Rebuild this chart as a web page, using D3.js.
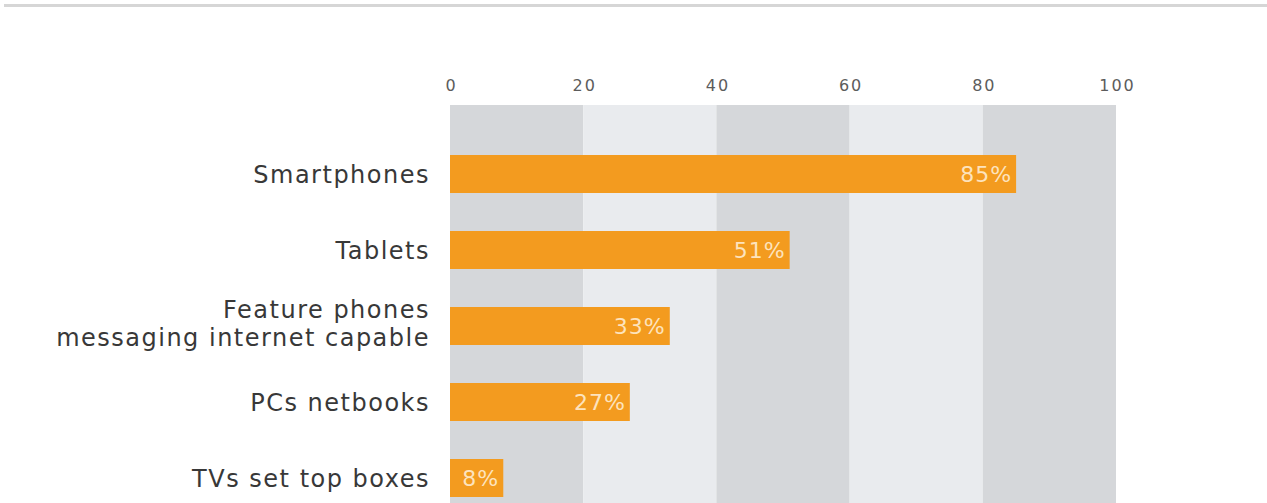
<!DOCTYPE html>
<html>
<head>
<meta charset="utf-8">
<script src="https://cdn.jsdelivr.net/npm/d3@7"></script>
<style>
  body { margin: 0; background: #fff; }
  svg { display: block; font-family: "DejaVu Sans", sans-serif; }
</style>
</head>
<body>
<div id="chart_div"></div>
<script>
const categories = [
    ["Smartphones"],
    ["Tablets"],
    ["Feature phones", "messaging internet capable"],
    ["PCs netbooks"],
    ["TVs set top boxes"]
];
const values = [85, 51, 33, 27, 8];
const tickValues = [0, 20, 40, 60, 80, 100];
const bandStarts = [0, 20, 40, 60, 80];

const width = 1267;
const height = 503;

const svg = d3.select("#chart_div")
    .append("svg")
    .attr("width", width)
    .attr("height", height);

// thin rule at the very top
svg.append("rect")
    .attr("x", 4)
    .attr("y", 4)
    .attr("width", width - 4)
    .attr("height", 3)
    .attr("fill", "#d6d6d6");

const x = d3.scaleLinear()
    .domain([0, 100])
    .range([450, 1116]);

const y = d3.scaleBand()
    .domain(categories.map((d, i) => i))
    .range([136, 516])
    .paddingInner(0.5)
    .paddingOuter(0.25);

// alternating background columns
svg.append("g")
    .selectAll("rect")
    .data(bandStarts)
    .enter()
    .append("rect")
    .attr("x", d => x(d))
    .attr("y", 105)
    .attr("width", d => x(d + 20) - x(d))
    .attr("height", height - 105)
    .attr("fill", (d, i) => i % 2 === 0 ? "#d5d7da" : "#e9ebee");

const xAxis = (g) => g.append("g")
    .attr("transform", "translate(1, 91)")
    .call(d3.axisTop(x).tickValues(tickValues).tickSize(0).tickPadding(0))
    .call(g => g.select(".domain").remove())
    .call(g => g.selectAll("text")
        .attr("fill", "#5c5c5c")
        .attr("font-size", 16)
        .attr("letter-spacing", 2)
        .attr("font-family", "DejaVu Sans, sans-serif"));

svg.call(xAxis);

const bars = svg.append("g")
    .selectAll("rect")
    .data(values)
    .enter()
    .append("rect")
    .attr("x", x(0))
    .attr("y", (d, i) => y(i))
    .attr("width", d => x(d) - x(0))
    .attr("height", y.bandwidth())
    .attr("fill", "#f39b1f");

svg.append("g")
    .selectAll("text")
    .data(values)
    .enter()
    .append("text")
    .attr("x", d => x(d) - 4)
    .attr("y", (d, i) => y(i) + y.bandwidth() / 2)
    .attr("dy", "0.36em")
    .attr("text-anchor", "end")
    .attr("fill", "#fde3bd")
    .attr("font-size", 22)
    .attr("letter-spacing", 1)
    .text(d => d + "%");

// category labels, two-line ones get a first line 8px above centre
const labels = svg.append("g")
    .selectAll("text")
    .data(categories)
    .enter()
    .append("text")
    .attr("x", 430)
    .attr("y", (d, i) => y(i) + y.bandwidth() / 2 + (d.length > 1 ? -8 : 8.5))
    .attr("text-anchor", "end")
    .attr("fill", "#383838")
    .attr("font-size", 24)
    .attr("letter-spacing", 1.5);

labels.selectAll("tspan")
    .data(d => d.map((t, j) => ({ t, j })))
    .enter()
    .append("tspan")
    .attr("x", 430)
    .attr("dy", d => d.j === 0 ? 0 : 28)
    .text(d => d.t);
</script>
</body>
</html>
